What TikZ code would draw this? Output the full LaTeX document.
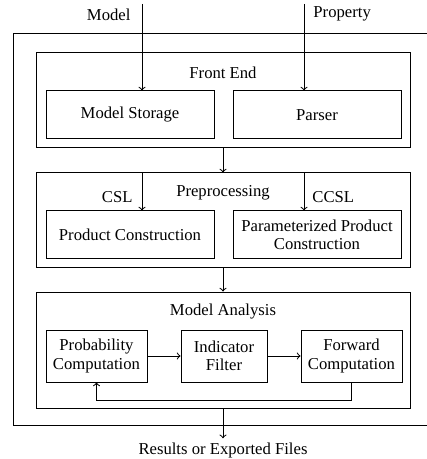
\documentclass[tikz,border=0pt]{standalone}
\usepackage{fontspec}
\setmainfont{Liberation Serif}
\usetikzlibrary{positioning}

\begin{document}
\begin{tikzpicture}[x=0.6pt, y=-0.6pt, semithick, font={\fontsize{10}{11}\selectfont}]
\tikzstyle{group} = [rectangle, draw, minimum width=224.4pt]
\tikzstyle{box} = [rectangle, draw, text centered, align=center, minimum width=100.8pt]
\tikzstyle{stage} = [rectangle, draw, text centered, align=center, minimum height=31.2pt]
\tikzstyle{title} = [anchor=base]
\tikzstyle{arrow} = [->]

\useasboundingbox (0,0) rectangle (426,459);

% outer frame, runs off the right side
\draw (13,33.5) rectangle (440,425);

% the three stages
\node (fe) [group, minimum height=57pt] at (223,100.5) {};
\node (pre) [group, minimum height=56.4pt] at (223,220) {};
\node (ana) [group, minimum height=69.6pt] at (223,350) {};

\node (fet) [title] at (223,79) {Front End};
\node (pret) [title] at (223,196.5) {Preprocessing};
\node (anat) [title] at (223,315.5) {Model Analysis};

\node (stor) [box, minimum height=28.8pt] at (130,115) {Model Storage};
\node (pars) [box, minimum height=28.8pt, right=10.8pt of stor] {Parser};

\node (prod) [box, minimum height=28.2pt] at (130,234.5) {Product Construction};
\node (param) [box, minimum height=28.2pt, right=10.8pt of prod] {Parameterized Product\\Construction};

\node (prob) [stage, minimum width=60.6pt] at (96.5,356) {Probability\\Computation};
\node (ind) [stage, minimum width=51.6pt, right=19.8pt of prob] {Indicator\\Filter};
\node (fwd) [stage, minimum width=60.6pt, right=19.8pt of ind] {Forward\\Computation};

% inputs and output
\coordinate (min) at (142,4);
\coordinate (pin) at (304,4);
\coordinate (back) at (0,400);
\node (mlab) [anchor=base east] at (136.5,20.5) {Model};
\node (plab) [anchor=base west] at (307.4,17.5) {Property};
\node (csl) [anchor=base east] at (138.6,202.3) {CSL};
\node (ccsl) [anchor=base west] at (306.4,202.3) {CCSL};
\node (res) [anchor=base, inner sep=2.5pt] at (223,454.5) {Results or Exported Files};

\draw [arrow] (min) -- (min |- stor.north);
\draw [arrow] (pin) -- (pin |- pars.north);
\draw [arrow] (fe) -- (pre);
\draw [arrow] (pre.north -| min) -- (min |- prod.north);
\draw [arrow] (pre.north -| pin) -- (pin |- param.north);
\draw [arrow] (pre) -- (ana);
\draw [arrow] (prob) -- (ind);
\draw [arrow] (ind) -- (fwd);
\draw [arrow] (fwd.south) -- (fwd.south |- back) -| (prob.south);
\draw [arrow] (ana) -- (res);
\end{tikzpicture}
\end{document}
